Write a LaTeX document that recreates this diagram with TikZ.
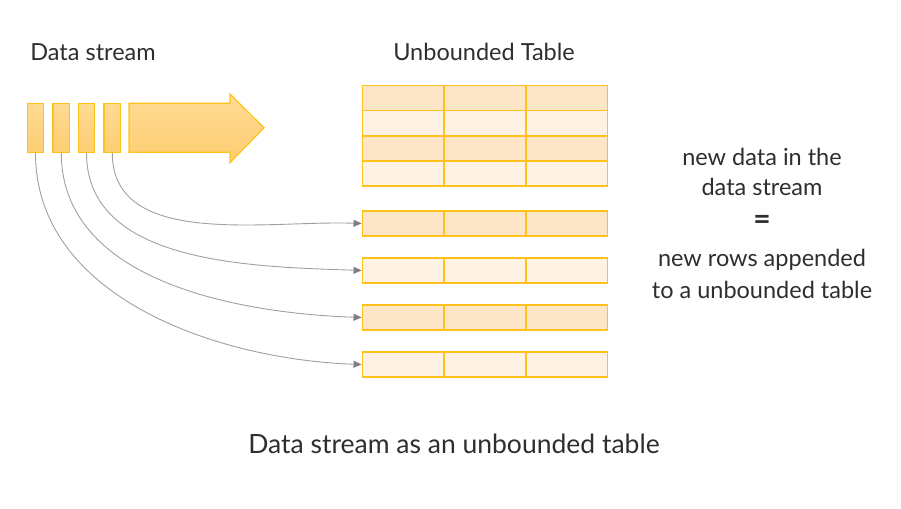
\documentclass[tikz,border=0pt]{standalone}
\usepackage{fontspec}
\setmainfont{Lato}
\usetikzlibrary{arrows.meta}
\definecolor{gold}{HTML}{FFC21A}
\definecolor{celldark}{HTML}{FDE6C8}
\definecolor{celllight}{HTML}{FEF2E4}
\definecolor{gradtop}{HTML}{FFDB93}
\definecolor{gradbot}{HTML}{FDCD72}
\definecolor{txt}{HTML}{2E2E2E}
\definecolor{conn}{HTML}{A0A0A0}
\definecolor{tipc}{HTML}{7F7F7F}
\begin{document}
\begin{tikzpicture}[x=1pt,y=-1pt,
  lbl/.style={font=\fontsize{23.5}{28}\selectfont, text=txt, inner sep=0pt},
  biglbl/.style={font=\fontsize{26.5}{32}\selectfont, text=txt, inner sep=0pt},
  srect/.style={draw=gold, line width=1.2pt, top color=gradtop, bottom color=gradbot, minimum width=16.5pt, minimum height=49pt, inner sep=0pt},
  cell/.style={draw=gold, line width=1.6pt, minimum width=81.7pt, minimum height=25pt, inner sep=0pt},
  dcell/.style={cell, fill=celldark},
  lcell/.style={cell, fill=celllight},
  conn/.style={draw=conn, line width=0.9pt, -{Triangle[length=8pt,width=7pt,fill=tipc,color=tipc]}}
]
\useasboundingbox (0,0) rectangle (901,508);
% titles
\node[lbl] (t1) at (93,52) {Data stream};
\node[lbl] (t2) at (484,52) {Unbounded Table};
% small stream rects
\node[srect] (s1) at (35.5,127.8) {};
\node[srect] (s2) at (61.3,127.8) {};
\node[srect] (s3) at (86.5,127.8) {};
\node[srect] (s4) at (112.3,127.8) {};
% big arrow
\shade[top color=gradtop, bottom color=gradbot, draw=gold, line width=1.2pt, line join=miter]
  (129,103.3) -- (230,103.3) -- (230,94) -- (264,127.8) -- (230,162.7) -- (230,152.3) -- (129,152.3) -- cycle;
% unbounded table (4 rows)
\foreach \r/\y/\st in {1/98.2/dcell,2/123.2/lcell,3/148.2/dcell,4/173.2/lcell}{
  \foreach \c/\x in {1/403.2,2/484.9,3/566.6}{
    \node[\st] (u\r\c) at (\x,\y) {};
  }
}
% appended rows
\foreach \r/\y/\st in {1/223.5/dcell,2/270.5/lcell,3/317.5/dcell,4/364.5/lcell}{
  \foreach \c/\x in {1/403.2,2/484.9,3/566.6}{
    \node[\st] (n\r\c) at (\x,\y) {};
  }
}
% connectors
\draw[conn] (s4.south) to[out=-90,in=178,looseness=0.95] (n11.west);
\draw[conn] (s3.south) to[out=-90,in=178,looseness=0.95] (n21.west);
\draw[conn] (s2.south) to[out=-90,in=178,looseness=0.95] (n31.west);
\draw[conn] (s1.south) to[out=-90,in=178,looseness=0.95] (n41.west);
% right text
\node[lbl] (r1) at (762,157) {new data in the};
\node[lbl] (r2) at (762,187) {data stream};
\node[lbl, font=\fontsize{30}{32}\selectfont\bfseries] (r3) at (762,222) {=};
\node[lbl] (r4) at (762,260) {new rows appended};
\node[lbl] (r5) at (762,290) {to a unbounded table};
% bottom caption
\node[biglbl] (cap) at (454,444) {Data stream as an unbounded table};
\end{tikzpicture}
\end{document}
